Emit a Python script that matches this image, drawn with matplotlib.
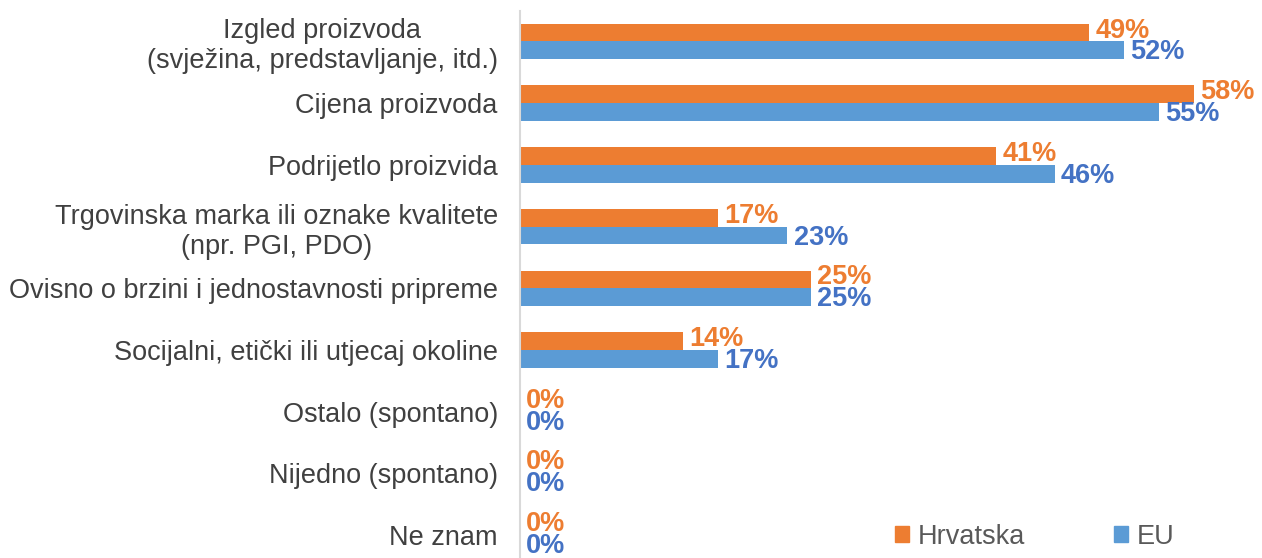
import numpy as np
import matplotlib.pyplot as plt
from matplotlib.patches import Patch

plt.rcParams['font.family'] = ['Liberation Sans', 'DejaVu Sans']

# ---------------- data ----------------
categories = [
    "Izgled proizvoda\n(svježina, predstavljanje, itd.)",
    "Cijena proizvoda",
    "Podrijetlo proizvida",
    "Trgovinska marka ili oznake kvalitete\n(npr. PGI, PDO)",
    "Ovisno o brzini i jednostavnosti pripreme",
    "Socijalni, etički ili utjecaj okoline",
    "Ostalo (spontano)",
    "Nijedno (spontano)",
    "Ne znam",
]
hrvatska = [49, 58, 41, 17, 25, 14, 0, 0, 0]
eu = [52, 55, 46, 23, 25, 17, 0, 0, 0]
series_names = ["Hrvatska", "EU"]

c_hr = "#ED7D31"
c_eu = "#5B9BD5"
c_eu_txt = "#4472C4"
c_txt = "#404040"

# ---------------- plot ----------------
fig = plt.figure(figsize=(12.62, 5.58), dpi=100)
W, H = 1262, 558
ax_left, ax_right = 520, 1262
ax_top, ax_bot = 10.6, 566
ax = fig.add_axes([ax_left / W, 1 - ax_bot / H, (ax_right - ax_left) / W, (ax_bot - ax_top) / H])

y = np.arange(len(categories))
bh = 0.287
ax.barh(y - bh / 2, hrvatska, height=bh, color=c_hr, label=series_names[0])
ax.barh(y + bh / 2, eu, height=bh, color=c_eu, label=series_names[1])

ax.set_ylim(len(categories) - 0.5, -0.5)
ax.set_xlim(0, (ax_right - ax_left) / 11.62)

ax.set_yticks(y)
ax.set_yticklabels(categories, fontsize=19.5, color=c_txt, multialignment="center")
ax.tick_params(axis="y", length=0, pad=16)
ax.set_xticks([])
for s in ["top", "right", "bottom"]:
    ax.spines[s].set_visible(False)
ax.spines["left"].set_color("#D9D9D9")
ax.spines["left"].set_linewidth(1.5)

# value labels: orange nudged up, blue nudged down (as in the source)
for i, v in enumerate(hrvatska):
    ax.annotate(f"{v}%", (v, y[i] - bh / 2), xytext=(4.5, 1.5), textcoords="offset points",
                va="center", ha="left", fontsize=19.5, fontweight="bold", color=c_hr)
for i, v in enumerate(eu):
    ax.annotate(f"{v}%", (v, y[i] + bh / 2), xytext=(4.5, -1.5), textcoords="offset points",
                va="center", ha="left", fontsize=19.5, fontweight="bold", color=c_eu_txt)

handles = [Patch(color=c_hr), Patch(color=c_eu)]
leg = fig.legend(handles, series_names, loc="center", bbox_to_anchor=(0.820, 0.038),
                 ncol=2, frameon=False, fontsize=19.5, handlelength=0.52, handleheight=0.52,
                 handletextpad=0.3, columnspacing=3.3)
for t in leg.get_texts():
    t.set_color("#595959")

fig.savefig("out.png", dpi=100)
